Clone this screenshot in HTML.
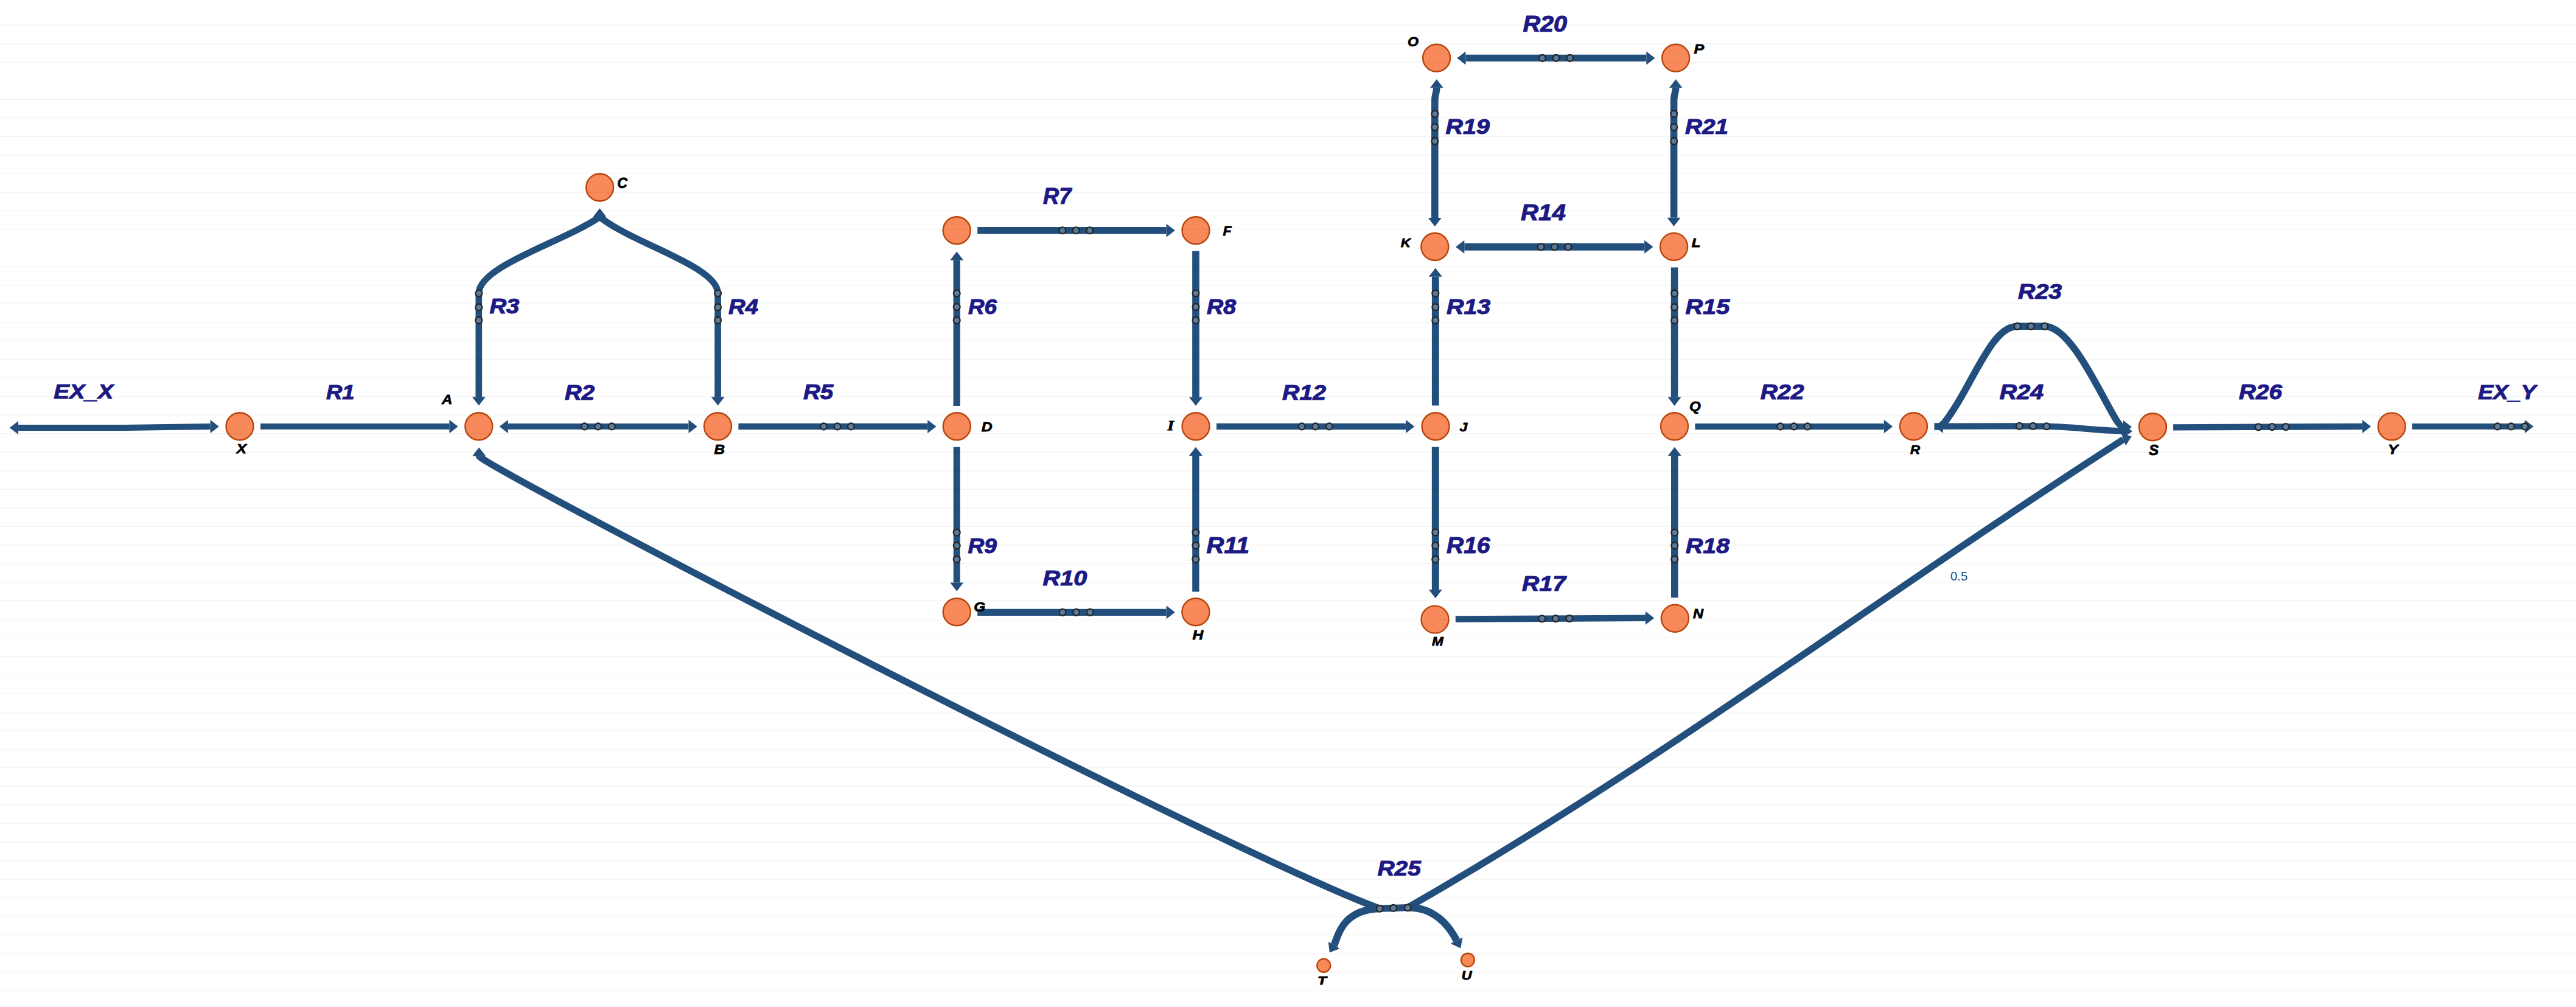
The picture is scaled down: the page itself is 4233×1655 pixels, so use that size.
<!DOCTYPE html><html><head><meta charset="utf-8"><style>html,body{margin:0;padding:0;background:#fff;overflow:hidden}svg{display:block}text{font-family:"Liberation Sans",sans-serif}</style></head><body>
<svg width="4233" height="1655" viewBox="0 0 4233 1655">
<rect width="4233" height="1655" fill="#ffffff"/>
<g fill="none" stroke="#234f7c" stroke-linecap="butt" stroke-linejoin="round">
<path d="M30.1 703.0 L206.0 703.0 L345.5 701.1" stroke-width="10.0"/>
<path d="M428.0 700.9 L738.4 700.9" stroke-width="9.8"/>
<path d="M834.9 700.9 L1131.5 700.9" stroke-width="9.9"/>
<path d="M786.8 482.1 L786.8 652.2" stroke-width="10.7"/>
<path d="M1179.6 482.1 L1179.6 652.2" stroke-width="10.7"/>
<path d="M786.8 482.1 C786.8 437.1 926.6 397.4 985.5 356.5" stroke-width="10.7"/>
<path d="M1179.6 482.1 C1179.6 437.3 1038.8 400.1 985.5 356.5" stroke-width="10.7"/>
<path d="M1213.4 700.9 L1524.2 700.9" stroke-width="10.1"/>
<path d="M1572.2 667.0 L1572.2 427.8" stroke-width="11.3"/>
<path d="M1606.2 378.7 L1916.5 378.7" stroke-width="11.6"/>
<path d="M1965.0 412.5 L1965.0 652.7" stroke-width="11.7"/>
<path d="M1572.2 734.7 L1572.2 957.5" stroke-width="11.0"/>
<path d="M1606.2 1006.3 L1916.6 1006.3" stroke-width="11.2"/>
<path d="M1964.9 972.5 L1964.9 749.0" stroke-width="11.4"/>
<path d="M1999.0 700.9 L2310.1 700.9" stroke-width="10.1"/>
<path d="M2358.8 666.4 L2358.8 454.7" stroke-width="11.8"/>
<path d="M2406.3 405.7 L2702.2 405.7" stroke-width="12.0"/>
<path d="M2751.6 439.4 L2751.6 652.6" stroke-width="11.6"/>
<path d="M2358.8 734.5 L2358.8 968.9" stroke-width="11.9"/>
<path d="M2391.8 1017.5 L2703.9 1015.8" stroke-width="10.6"/>
<path d="M2751.8 982.2 L2751.8 749.0" stroke-width="11.6"/>
<path d="M2357.8 357.9 L2357.8 165.0" stroke-width="11.6"/>
<path d="M2357.8 165.0 C2357.8 155.0 2360.8 152.0 2360.8 144.5" stroke-width="11.6"/>
<path d="M2408.5 95.4 L2705.3 95.4" stroke-width="11.2"/>
<path d="M2750.6 357.7 L2750.6 165.0" stroke-width="11.6"/>
<path d="M2750.6 165.0 C2750.6 155.0 2753.7 152.0 2753.7 144.5" stroke-width="11.6"/>
<path d="M2785.4 700.9 L3095.9 700.9" stroke-width="10.0"/>
<path d="M3178.5 701.0 L3190.0 701.0" stroke-width="11.4"/>
<path d="M3190.0 701.0 C3238.9 642.8 3269.1 536.2 3315.1 536.2" stroke-width="11.4"/>
<path d="M3315.1 536.2 L3359.8 536.2" stroke-width="11.4"/>
<path d="M3359.8 536.2 C3412.8 536.2 3472.5 701.8 3488.8 701.8" stroke-width="11.4"/>
<path d="M3192.9 700.7 L3318.5 700.3 L3363.1 700.7" stroke-width="10.2"/>
<path d="M3363.1 700.7 C3410.0 701.5 3450.0 708.5 3489.7 708.1" stroke-width="10.2"/>
<path d="M2267.1 1493.2 L2313.2 1491.7" stroke-width="11.3"/>
<path d="M2267.1 1493.2 C2019.8 1402.8 787.2 763.3 787.2 749.6" stroke-width="11.2"/>
<path d="M2313.2 1491.7 C2741.2 1245.6 3066.4 994.6 3489.3 722.1" stroke-width="11.2"/>
<path d="M2267.1 1493.2 C2201.8 1495.2 2197.7 1544.2 2192.2 1553.4" stroke-width="12.0"/>
<path d="M2313.2 1491.7 C2355.0 1490.4 2379.9 1519.0 2393.6 1545.7" stroke-width="12.0"/>
<path d="M3571.1 702.4 L3881.8 700.9" stroke-width="10.3"/>
<path d="M3963.8 700.9 L4148.9 700.9" stroke-width="9.8"/>
</g><g fill="#234f7c">
<path d="M15.8 703.0 L30.1 692.0 L30.1 714.0 Z"/>
<path d="M359.8 701.1 L345.5 712.1 L345.5 690.1 Z"/>
<path d="M752.7 700.9 L738.4 711.9 L738.4 689.9 Z"/>
<path d="M820.6 700.9 L834.9 689.9 L834.9 711.9 Z"/>
<path d="M1145.8 700.9 L1131.5 711.9 L1131.5 689.9 Z"/>
<path d="M786.8 666.5 L775.8 652.2 L797.8 652.2 Z"/>
<path d="M1179.6 666.5 L1168.6 652.2 L1190.6 652.2 Z"/>
<path d="M985.5 342.2 L996.5 356.5 L974.5 356.5 Z"/>
<path d="M1538.5 700.9 L1524.2 711.9 L1524.2 689.9 Z"/>
<path d="M1572.2 413.5 L1583.2 427.8 L1561.2 427.8 Z"/>
<path d="M1930.8 378.7 L1916.5 389.7 L1916.5 367.7 Z"/>
<path d="M1965.0 667.0 L1954.0 652.7 L1976.0 652.7 Z"/>
<path d="M1572.2 971.8 L1561.2 957.5 L1583.2 957.5 Z"/>
<path d="M1930.9 1006.3 L1916.6 1017.3 L1916.6 995.3 Z"/>
<path d="M1964.9 734.7 L1975.9 749.0 L1953.9 749.0 Z"/>
<path d="M2324.4 700.9 L2310.1 711.9 L2310.1 689.9 Z"/>
<path d="M2358.8 440.4 L2369.8 454.7 L2347.8 454.7 Z"/>
<path d="M2392.0 405.7 L2406.3 394.7 L2406.3 416.7 Z"/>
<path d="M2716.5 405.7 L2702.2 416.7 L2702.2 394.7 Z"/>
<path d="M2751.6 666.9 L2740.6 652.6 L2762.6 652.6 Z"/>
<path d="M2358.8 983.2 L2347.8 968.9 L2369.8 968.9 Z"/>
<path d="M2718.2 1015.8 L2703.9 1026.8 L2703.9 1004.8 Z"/>
<path d="M2751.8 734.7 L2762.8 749.0 L2740.8 749.0 Z"/>
<path d="M2357.8 372.2 L2346.8 357.9 L2368.8 357.9 Z"/>
<path d="M2360.8 130.2 L2371.8 144.5 L2349.8 144.5 Z"/>
<path d="M2394.2 95.4 L2408.5 84.4 L2408.5 106.4 Z"/>
<path d="M2719.6 95.4 L2705.3 106.4 L2705.3 84.4 Z"/>
<path d="M2750.6 372.0 L2739.6 357.7 L2761.6 357.7 Z"/>
<path d="M2753.7 130.2 L2764.7 144.5 L2742.7 144.5 Z"/>
<path d="M3110.2 700.9 L3095.9 711.9 L3095.9 689.9 Z"/>
<path d="M3503.1 701.8 L3488.8 712.8 L3488.8 690.8 Z"/>
<path d="M3178.6 700.7 L3192.9 689.7 L3192.9 711.7 Z"/>
<path d="M3504.0 709.0 L3489.1 719.1 L3490.4 697.2 Z"/>
<path d="M787.2 735.3 L798.2 749.6 L776.2 749.6 Z"/>
<path d="M3502.7 717.2 L3493.0 732.4 L3485.5 711.7 Z"/>
<path d="M2184.8 1565.6 L2182.8 1547.7 L2201.6 1559.1 Z"/>
<path d="M2400.1 1558.4 L2383.8 1550.7 L2403.4 1540.7 Z"/>
<path d="M3896.1 700.9 L3881.8 711.9 L3881.8 689.9 Z"/>
<path d="M4163.2 700.9 L4148.9 711.9 L4148.9 689.9 Z"/>
</g>
<g fill="#1d1a86" stroke="#1d1a86" stroke-width="1.1" stroke-linejoin="round" font-weight="bold" font-style="italic">
<text x="88.3" y="655.0" font-size="34.00" textLength="98.1" lengthAdjust="spacingAndGlyphs">EX_X</text>
<text x="536.0" y="656.0" font-size="34.00" textLength="46.6" lengthAdjust="spacingAndGlyphs">R1</text>
<text x="928.1" y="656.8" font-size="34.42" textLength="49.0" lengthAdjust="spacingAndGlyphs">R2</text>
<text x="804.4" y="515.3" font-size="34.32" textLength="49.0" lengthAdjust="spacingAndGlyphs">R3</text>
<text x="1196.9" y="516.0" font-size="35.20" textLength="49.1" lengthAdjust="spacingAndGlyphs">R4</text>
<text x="1319.9" y="656.3" font-size="35.99" textLength="49.4" lengthAdjust="spacingAndGlyphs">R5</text>
<text x="1591.0" y="516.0" font-size="35.20" textLength="47.0" lengthAdjust="spacingAndGlyphs">R6</text>
<text x="1714.0" y="334.7" font-size="37.02" textLength="46.3" lengthAdjust="spacingAndGlyphs">R7</text>
<text x="1983.1" y="516.0" font-size="35.20" textLength="48.0" lengthAdjust="spacingAndGlyphs">R8</text>
<text x="1590.4" y="909.3" font-size="35.20" textLength="47.4" lengthAdjust="spacingAndGlyphs">R9</text>
<text x="1713.6" y="961.8" font-size="34.92" textLength="72.6" lengthAdjust="spacingAndGlyphs">R10</text>
<text x="1982.6" y="909.0" font-size="36.17" textLength="70.4" lengthAdjust="spacingAndGlyphs">R11</text>
<text x="2107.1" y="656.8" font-size="34.92" textLength="71.9" lengthAdjust="spacingAndGlyphs">R12</text>
<text x="2377.0" y="516.3" font-size="34.92" textLength="72.3" lengthAdjust="spacingAndGlyphs">R13</text>
<text x="2499.0" y="361.8" font-size="37.02" textLength="73.8" lengthAdjust="spacingAndGlyphs">R14</text>
<text x="2769.4" y="516.0" font-size="35.38" textLength="72.9" lengthAdjust="spacingAndGlyphs">R15</text>
<text x="2377.1" y="908.8" font-size="36.15" textLength="71.3" lengthAdjust="spacingAndGlyphs">R16</text>
<text x="2501.1" y="970.8" font-size="34.78" textLength="71.9" lengthAdjust="spacingAndGlyphs">R17</text>
<text x="2769.9" y="909.0" font-size="35.53" textLength="72.1" lengthAdjust="spacingAndGlyphs">R18</text>
<text x="2375.6" y="220.3" font-size="35.03" textLength="72.3" lengthAdjust="spacingAndGlyphs">R19</text>
<text x="2502.4" y="51.5" font-size="37.02" textLength="72.8" lengthAdjust="spacingAndGlyphs">R20</text>
<text x="2769.0" y="220.3" font-size="35.03" textLength="71.0" lengthAdjust="spacingAndGlyphs">R21</text>
<text x="2892.7" y="655.8" font-size="34.66" textLength="71.7" lengthAdjust="spacingAndGlyphs">R22</text>
<text x="3316.1" y="491.0" font-size="34.32" textLength="72.1" lengthAdjust="spacingAndGlyphs">R23</text>
<text x="3285.7" y="655.7" font-size="34.66" textLength="72.4" lengthAdjust="spacingAndGlyphs">R24</text>
<text x="2263.4" y="1438.7" font-size="35.99" textLength="71.5" lengthAdjust="spacingAndGlyphs">R25</text>
<text x="3679.1" y="656.2" font-size="34.24" textLength="70.9" lengthAdjust="spacingAndGlyphs">R26</text>
<text x="4072.0" y="655.5" font-size="34.00" textLength="95.3" lengthAdjust="spacingAndGlyphs">EX_Y</text>
</g>
<g fill="white" fill-opacity="0.25" stroke="#262626" stroke-width="2.3">
<circle cx="960.5" cy="700.9" r="5.4"/>
<circle cx="982.8" cy="700.9" r="5.4"/>
<circle cx="1005.2" cy="700.9" r="5.4"/>
<circle cx="786.8" cy="482.1" r="5.4"/>
<circle cx="786.8" cy="504.9" r="5.4"/>
<circle cx="786.8" cy="526.4" r="5.4"/>
<circle cx="1179.6" cy="482.1" r="5.4"/>
<circle cx="1179.6" cy="504.9" r="5.4"/>
<circle cx="1179.6" cy="526.4" r="5.4"/>
<circle cx="1353.5" cy="700.9" r="5.4"/>
<circle cx="1376.0" cy="700.9" r="5.4"/>
<circle cx="1398.4" cy="700.9" r="5.4"/>
<circle cx="1572.2" cy="482.0" r="5.4"/>
<circle cx="1572.2" cy="504.5" r="5.4"/>
<circle cx="1572.2" cy="526.4" r="5.4"/>
<circle cx="1745.9" cy="378.7" r="5.4"/>
<circle cx="1768.3" cy="378.7" r="5.4"/>
<circle cx="1790.7" cy="378.7" r="5.4"/>
<circle cx="1965.0" cy="482.0" r="5.4"/>
<circle cx="1965.0" cy="504.5" r="5.4"/>
<circle cx="1965.0" cy="526.4" r="5.4"/>
<circle cx="1572.2" cy="875.2" r="5.4"/>
<circle cx="1572.2" cy="896.7" r="5.4"/>
<circle cx="1572.2" cy="919.2" r="5.4"/>
<circle cx="1746.0" cy="1006.3" r="5.4"/>
<circle cx="1768.6" cy="1006.3" r="5.4"/>
<circle cx="1791.1" cy="1006.3" r="5.4"/>
<circle cx="1964.9" cy="875.2" r="5.4"/>
<circle cx="1964.9" cy="896.7" r="5.4"/>
<circle cx="1964.9" cy="919.2" r="5.4"/>
<circle cx="2139.2" cy="700.9" r="5.4"/>
<circle cx="2161.7" cy="700.9" r="5.4"/>
<circle cx="2184.2" cy="700.9" r="5.4"/>
<circle cx="2358.8" cy="482.2" r="5.4"/>
<circle cx="2358.8" cy="504.8" r="5.4"/>
<circle cx="2358.8" cy="526.6" r="5.4"/>
<circle cx="2532.2" cy="405.7" r="5.4"/>
<circle cx="2554.5" cy="405.7" r="5.4"/>
<circle cx="2576.8" cy="405.7" r="5.4"/>
<circle cx="2751.6" cy="482.2" r="5.4"/>
<circle cx="2751.6" cy="504.8" r="5.4"/>
<circle cx="2751.6" cy="526.8" r="5.4"/>
<circle cx="2358.8" cy="875.0" r="5.4"/>
<circle cx="2358.8" cy="896.7" r="5.4"/>
<circle cx="2358.8" cy="919.4" r="5.4"/>
<circle cx="2533.9" cy="1016.8" r="5.4"/>
<circle cx="2556.3" cy="1016.6" r="5.4"/>
<circle cx="2578.8" cy="1016.5" r="5.4"/>
<circle cx="2751.8" cy="875.2" r="5.4"/>
<circle cx="2751.8" cy="896.7" r="5.4"/>
<circle cx="2751.8" cy="919.2" r="5.4"/>
<circle cx="2357.8" cy="187.2" r="5.4"/>
<circle cx="2357.8" cy="209.1" r="5.4"/>
<circle cx="2357.8" cy="232.0" r="5.4"/>
<circle cx="2534.4" cy="95.4" r="5.4"/>
<circle cx="2557.1" cy="95.4" r="5.4"/>
<circle cx="2579.8" cy="95.4" r="5.4"/>
<circle cx="2750.6" cy="187.2" r="5.4"/>
<circle cx="2750.6" cy="209.1" r="5.4"/>
<circle cx="2750.6" cy="232.0" r="5.4"/>
<circle cx="2925.5" cy="700.9" r="5.4"/>
<circle cx="2947.8" cy="700.9" r="5.4"/>
<circle cx="2970.1" cy="700.9" r="5.4"/>
<circle cx="3315.1" cy="536.2" r="5.4"/>
<circle cx="3337.4" cy="536.2" r="5.4"/>
<circle cx="3359.8" cy="536.2" r="5.4"/>
<circle cx="3318.5" cy="700.3" r="5.4"/>
<circle cx="3340.7" cy="700.3" r="5.4"/>
<circle cx="3363.1" cy="700.7" r="5.4"/>
<circle cx="2267.1" cy="1493.2" r="5.4"/>
<circle cx="2289.7" cy="1492.4" r="5.4"/>
<circle cx="2313.2" cy="1491.7" r="5.4"/>
<circle cx="3711.1" cy="701.8" r="5.4"/>
<circle cx="3733.6" cy="701.6" r="5.4"/>
<circle cx="3756.1" cy="701.5" r="5.4"/>
<circle cx="4104.0" cy="700.9" r="5.4"/>
<circle cx="4126.4" cy="700.9" r="5.4"/>
<circle cx="4149.0" cy="700.9" r="5.4"/>
</g>
<g fill="#f7895a" stroke="#b9450b" stroke-width="2.4">
<circle cx="394.0" cy="700.8" r="22.5"/>
<circle cx="786.8" cy="700.8" r="22.5"/>
<circle cx="1179.5" cy="700.8" r="22.5"/>
<circle cx="985.6" cy="308.0" r="22.5"/>
<circle cx="1572.3" cy="700.8" r="22.5"/>
<circle cx="1572.2" cy="378.7" r="22.5"/>
<circle cx="1965.0" cy="378.7" r="22.5"/>
<circle cx="1572.2" cy="1005.8" r="22.5"/>
<circle cx="1964.9" cy="1005.8" r="22.5"/>
<circle cx="1965.0" cy="700.8" r="22.5"/>
<circle cx="2359.0" cy="700.8" r="22.5"/>
<circle cx="2357.8" cy="405.5" r="22.5"/>
<circle cx="2750.6" cy="405.4" r="22.5"/>
<circle cx="2360.6" cy="95.2" r="22.5"/>
<circle cx="2753.7" cy="95.2" r="22.5"/>
<circle cx="2751.5" cy="700.8" r="22.5"/>
<circle cx="2358.0" cy="1018.1" r="22.5"/>
<circle cx="2752.4" cy="1016.3" r="22.5"/>
<circle cx="3144.5" cy="700.8" r="22.5"/>
<circle cx="3537.4" cy="701.7" r="22.5"/>
<circle cx="3930.2" cy="700.9" r="22.5"/>
<circle cx="2175.2" cy="1586.8" r="11.0"/>
<circle cx="2411.9" cy="1577.7" r="11.0"/>
</g>
<g fill="#000" stroke="#000" stroke-width="0.8" stroke-linejoin="round" font-weight="bold" font-style="italic">
<text x="388.5" y="745.4" font-size="22.17" textLength="16.5" lengthAdjust="spacingAndGlyphs">X</text>
<text x="726.1" y="664.3" font-size="22.69" textLength="17.3" lengthAdjust="spacingAndGlyphs">A</text>
<text x="1173.6" y="746.3" font-size="21.79" textLength="17.5" lengthAdjust="spacingAndGlyphs">B</text>
<text x="1014.2" y="309.0" font-size="24.60" textLength="16.7" lengthAdjust="spacingAndGlyphs">C</text>
<text x="1612.7" y="709.3" font-size="21.89" textLength="17.9" lengthAdjust="spacingAndGlyphs">D</text>
<text x="2009.5" y="386.5" font-size="22.85" textLength="14.1" lengthAdjust="spacingAndGlyphs">F</text>
<text x="1600.2" y="1005.1" font-size="21.30" textLength="18.9" lengthAdjust="spacingAndGlyphs">G</text>
<text x="1959.5" y="1050.9" font-size="21.41" textLength="17.8" lengthAdjust="spacingAndGlyphs">H</text>
<text x="1918.4" y="706.6" font-size="22.17" textLength="10.4" lengthAdjust="spacingAndGlyphs" style="font-family:&quot;Liberation Serif&quot;,serif">I</text>
<text x="2398.6" y="709.1" font-size="21.01" textLength="12.8" lengthAdjust="spacingAndGlyphs">J</text>
<text x="2301.8" y="405.5" font-size="20.54" textLength="16.2" lengthAdjust="spacingAndGlyphs">K</text>
<text x="2779.7" y="405.5" font-size="20.54" textLength="14.7" lengthAdjust="spacingAndGlyphs">L</text>
<text x="2353.0" y="1061.4" font-size="20.89" textLength="18.8" lengthAdjust="spacingAndGlyphs">M</text>
<text x="2782.1" y="1016.0" font-size="21.41" textLength="17.0" lengthAdjust="spacingAndGlyphs">N</text>
<text x="2313.0" y="75.5" font-size="22.43" textLength="18.0" lengthAdjust="spacingAndGlyphs">O</text>
<text x="2783.6" y="88.1" font-size="21.23" textLength="16.7" lengthAdjust="spacingAndGlyphs">P</text>
<text x="2775.9" y="674.7" font-size="22.50" textLength="18.8" lengthAdjust="spacingAndGlyphs">Q</text>
<text x="3139.0" y="745.6" font-size="20.89" textLength="16.1" lengthAdjust="spacingAndGlyphs">R</text>
<text x="3531.1" y="747.5" font-size="24.07" textLength="16.2" lengthAdjust="spacingAndGlyphs">S</text>
<text x="2165.1" y="1618.1" font-size="19.12" textLength="14.9" lengthAdjust="spacingAndGlyphs">T</text>
<text x="2401.6" y="1610.1" font-size="21.08" textLength="17.1" lengthAdjust="spacingAndGlyphs">U</text>
<text x="3923.7" y="746.3" font-size="22.50" textLength="17.0" lengthAdjust="spacingAndGlyphs">Y</text>
</g>
<text x="3205.0" y="954.4" font-size="20.4" fill="#234f7c">0.5</text>
<g stroke="#000" stroke-opacity="0.045" stroke-width="1.4">
<line x1="0" y1="41.3" x2="4233" y2="41.3"/>
<line x1="0" y1="71.8" x2="4233" y2="71.8"/>
<line x1="0" y1="102.3" x2="4233" y2="102.3"/>
<line x1="0" y1="132.9" x2="4233" y2="132.9" stroke-opacity="0.012"/>
<line x1="0" y1="163.4" x2="4233" y2="163.4"/>
<line x1="0" y1="193.9" x2="4233" y2="193.9"/>
<line x1="0" y1="224.4" x2="4233" y2="224.4"/>
<line x1="0" y1="254.9" x2="4233" y2="254.9"/>
<line x1="0" y1="285.4" x2="4233" y2="285.4"/>
<line x1="0" y1="316.0" x2="4233" y2="316.0"/>
<line x1="0" y1="346.5" x2="4233" y2="346.5"/>
<line x1="0" y1="377.0" x2="4233" y2="377.0"/>
<line x1="0" y1="407.5" x2="4233" y2="407.5"/>
<line x1="0" y1="438.0" x2="4233" y2="438.0"/>
<line x1="0" y1="468.5" x2="4233" y2="468.5"/>
<line x1="0" y1="499.1" x2="4233" y2="499.1"/>
<line x1="0" y1="529.6" x2="4233" y2="529.6"/>
<line x1="0" y1="560.1" x2="4233" y2="560.1"/>
<line x1="0" y1="590.6" x2="4233" y2="590.6"/>
<line x1="0" y1="621.1" x2="4233" y2="621.1"/>
<line x1="0" y1="651.6" x2="4233" y2="651.6"/>
<line x1="0" y1="682.2" x2="4233" y2="682.2"/>
<line x1="0" y1="712.7" x2="4233" y2="712.7"/>
<line x1="0" y1="743.2" x2="4233" y2="743.2"/>
<line x1="0" y1="773.7" x2="4233" y2="773.7"/>
<line x1="0" y1="804.2" x2="4233" y2="804.2"/>
<line x1="0" y1="834.7" x2="4233" y2="834.7"/>
<line x1="0" y1="865.3" x2="4233" y2="865.3"/>
<line x1="0" y1="895.8" x2="4233" y2="895.8"/>
<line x1="0" y1="926.3" x2="4233" y2="926.3"/>
<line x1="0" y1="956.8" x2="4233" y2="956.8"/>
<line x1="0" y1="987.3" x2="4233" y2="987.3"/>
<line x1="0" y1="1017.8" x2="4233" y2="1017.8"/>
<line x1="0" y1="1048.4" x2="4233" y2="1048.4"/>
<line x1="0" y1="1078.9" x2="4233" y2="1078.9"/>
<line x1="0" y1="1109.4" x2="4233" y2="1109.4"/>
<line x1="0" y1="1139.9" x2="4233" y2="1139.9"/>
<line x1="0" y1="1170.4" x2="4233" y2="1170.4"/>
<line x1="0" y1="1200.9" x2="4233" y2="1200.9"/>
<line x1="0" y1="1231.5" x2="4233" y2="1231.5"/>
<line x1="0" y1="1262.0" x2="4233" y2="1262.0"/>
<line x1="0" y1="1292.5" x2="4233" y2="1292.5"/>
<line x1="0" y1="1323.0" x2="4233" y2="1323.0"/>
<line x1="0" y1="1353.5" x2="4233" y2="1353.5"/>
<line x1="0" y1="1384.0" x2="4233" y2="1384.0"/>
<line x1="0" y1="1414.6" x2="4233" y2="1414.6"/>
<line x1="0" y1="1445.1" x2="4233" y2="1445.1"/>
<line x1="0" y1="1475.6" x2="4233" y2="1475.6"/>
<line x1="0" y1="1506.1" x2="4233" y2="1506.1"/>
<line x1="0" y1="1536.6" x2="4233" y2="1536.6"/>
<line x1="0" y1="1567.1" x2="4233" y2="1567.1"/>
<line x1="0" y1="1597.7" x2="4233" y2="1597.7"/>
<line x1="0" y1="1628.2" x2="4233" y2="1628.2"/>
</g>
</svg></body></html>
